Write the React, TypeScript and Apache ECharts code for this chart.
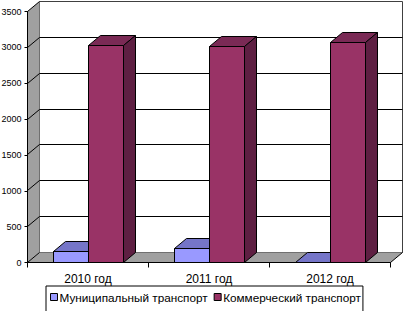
import { useEffect, useRef } from 'react';
import * as echarts from 'echarts';

const categories = ['2010 год', '2011 год', '2012 год'];
const municipal = [150, 190, 0];
const commercial = [3030, 3015, 3070];
const seriesNames = ['Муниципальный транспорт', 'Коммерческий транспорт'];
const yMin = 0;
const yMax = 3500;
const yStep = 500;

const DX = 12;
const DY = -10;
const BAR_RATIO = 35 / 121;

const p = (v: number) => Math.round(v - 0.5) + 0.5;

function barRenderer(slot: number, front: string, top: string, side: string) {
  return (params: any, api: any) => {
    const i = api.value(0);
    const v = api.value(1);
    const c = api.coord([i, v]);
    const c0 = api.coord([i, 0]);
    const band = api.size([1, 0])[0];
    const w = band * BAR_RATIO;
    const x0 = p(c[0] + (slot - 1) * w);
    const x1 = p(c[0] + slot * w);
    const yT = p(c[1]);
    const yB = p(c0[1]);
    const st = (fill: string) => ({ fill, stroke: '#000', lineWidth: 1 });
    return {
      type: 'group',
      children: [
        { type: 'polygon', shape: { points: [[x0, yT], [x1, yT], [x1, yB], [x0, yB]] }, style: st(front) },
        { type: 'polygon', shape: { points: [[x0, yT], [x0 + DX, yT + DY], [x1 + DX, yT + DY], [x1, yT]] }, style: st(top) },
        { type: 'polygon', shape: { points: [[x1, yT], [x1 + DX, yT + DY], [x1 + DX, yB + DY], [x1, yB]] }, style: st(side) },
      ],
    };
  };
}

function wallsRenderer(params: any, api: any) {
  const cs = params.coordSys;
  const xl = p(cs.x);
  const xr = p(cs.x + cs.width);
  const y0 = p(api.coord([0, yMin])[1]);
  const yTop = p(api.coord([0, yMax])[1]);
  const children: any[] = [];
  children.push({
    type: 'polygon',
    shape: { points: [[xl + DX, yTop + DY], [xr + DX, yTop + DY], [xr + DX, y0 + DY], [xl + DX, y0 + DY]] },
    style: { fill: '#ffffff', stroke: '#404040', lineWidth: 1 },
  });
  children.push({
    type: 'polygon',
    shape: { points: [[xl, y0], [xl, yTop], [xl + DX, yTop + DY], [xl + DX, y0 + DY]] },
    style: { fill: '#a0a0a0', stroke: 'none' },
  });
  children.push({
    type: 'polygon',
    shape: { points: [[xl, y0], [xr, y0], [xr + DX, y0 + DY], [xl + DX, y0 + DY]] },
    style: { fill: '#a0a0a0', stroke: 'none' },
  });
  children.push({
    type: 'line',
    shape: { x1: xr, y1: y0, x2: xr + DX, y2: y0 + DY },
    style: { stroke: '#000', lineWidth: 1 },
  });
  for (let v = yMin; v <= yMax; v += yStep) {
    const y = p(api.coord([0, v])[1]);
    children.push({
      type: 'line',
      shape: { x1: xl, y1: y, x2: xl + DX, y2: y + DY },
      style: { stroke: '#000', lineWidth: 1 },
    });
    if (v > yMin && v < yMax) {
      children.push({
        type: 'line',
        shape: { x1: xl + DX, y1: y + DY, x2: xr + DX, y2: y + DY },
        style: { stroke: '#000', lineWidth: 1 },
      });
    }
  }
  return { type: 'group', children };
}

export default function App() {
  const ref = useRef<HTMLDivElement>(null);
  useEffect(() => {
    document.body.style.margin = '0';
    const chart = echarts.init(ref.current!, null, { renderer: 'svg' });
    const colors = ['#9999FF', '#993366'];
    chart.setOption({
      animation: false,
      backgroundColor: '#ffffff',
      textStyle: { fontFamily: '"Liberation Sans", Arial, sans-serif' },
      grid: {
        left: 27.5,
        top: 11.5,
        width: 363,
        height: 251,
        containLabel: false,
        outerBoundsMode: 'none',
      },
      xAxis: {
        type: 'category',
        data: categories,
        z: 5,
        axisLine: { show: true, lineStyle: { color: '#000', width: 1 } },
        axisTick: { show: true, length: 5, interval: 0, lineStyle: { color: '#000' } },
        axisLabel: { color: '#000', fontSize: 12, margin: 10, interval: 0 },
        splitLine: { show: false },
      },
      yAxis: {
        type: 'value',
        min: yMin,
        max: yMax,
        interval: yStep,
        z: 5,
        axisLine: { show: true, lineStyle: { color: '#000', width: 1 } },
        axisTick: { show: true, length: 3, lineStyle: { color: '#000' } },
        axisLabel: {
          color: '#000',
          fontSize: 9,
          margin: 6,
          formatter: (v: number) => String(v),
        },
        splitLine: { show: false },
      },
      legend: {
        left: 46,
        top: 286,
        orient: 'horizontal',
        padding: [5, 2, 20, 4],
        borderColor: '#000',
        borderWidth: 1,
        itemWidth: 7,
        itemHeight: 7,
        itemGap: 6,
        icon: 'rect',
        textStyle: { color: '#000', fontSize: 11.75, padding: [0, 0, 0, -3] },
        data: seriesNames.map((n, i) => ({
          name: n,
          itemStyle: { color: colors[i], borderColor: '#000', borderWidth: 1 },
        })),
      },
      series: [
        {
          type: 'custom',
          silent: true,
          z: 1,
          data: [[0, 0]],
          encode: { x: 0, y: 1 },
          renderItem: wallsRenderer,
        },
        {
          type: 'custom',
          name: seriesNames[0],
          z: 2,
          itemStyle: { color: colors[0] },
          data: municipal.map((v, i) => [i, v]),
          encode: { x: 0, y: 1 },
          renderItem: barRenderer(0, '#9999FF', '#7575C8', '#5A5AA0'),
        },
        {
          type: 'custom',
          name: seriesNames[1],
          z: 2,
          itemStyle: { color: colors[1] },
          data: commercial.map((v, i) => [i, v]),
          encode: { x: 0, y: 1 },
          renderItem: barRenderer(1, '#993366', '#7A2A55', '#5E1F42'),
        },
      ],
    });
    return () => chart.dispose();
  }, []);
  return <div ref={ref} style={{ width: 405, height: 311 }} />;
}
